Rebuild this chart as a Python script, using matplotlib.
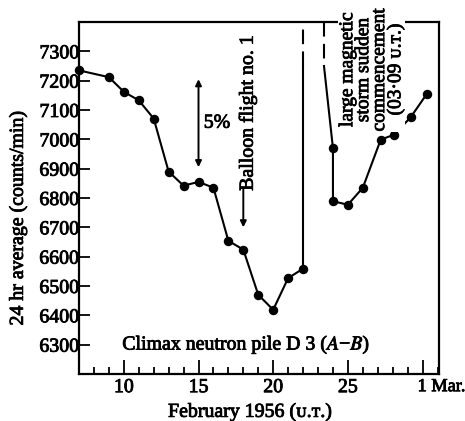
import matplotlib
matplotlib.use("Agg")
import matplotlib.pyplot as plt
import matplotlib.transforms as mtransforms
import matplotlib.patheffects as pe

plt.rcParams['font.family'] = ['Liberation Serif', 'DejaVu Serif']
plt.rcParams['mathtext.fontset'] = 'stix'

# --- data (February 1956, day of month; 30 = 1 Mar.) ---
days_before = [7, 9, 10, 11, 12, 13, 14, 15, 16, 17, 18, 19, 20, 21, 22]
counts_before = [7235, 7212, 7162, 7133, 7071, 6890, 6842, 6855, 6835,
                 6654, 6624, 6470, 6419, 6527, 6559]
days_after = [24, 24, 25, 26, 27.2, 28.1, 29.2, 30.3]
counts_after = [6970, 6789, 6777, 6835, 6999, 7016, 7075, 7156]
offscale_days = [22, 23.4]      # lines going off scale (flare of 23 Feb)
offscale_break = 7250           # where the off-scale lines turn dashed
xticks = [10, 15, 20, 25, 30]
xticklabels = ['10', '15', '20', '25', '1 Mar.']
yticks = [6300, 6400, 6500, 6600, 6700, 6800, 6900, 7000, 7100, 7200, 7300]
five_pct = [6905, 7205]

FS = 14.3
bold = [pe.withStroke(linewidth=0.6, foreground='black')]
fig = plt.figure(figsize=(4.65, 4.21), dpi=100)
ax = fig.add_axes([79/465, 1-374/421, 360/465, 352/421])
ax.set_xlim(7, 31.1)
ax.set_ylim(6200, 7400)

lw = 1.5
ax.plot(days_before, counts_before, '-o', color='black', lw=lw, ms=5.8, clip_on=False, zorder=4)
ax.plot(days_after, counts_after, '-o', color='black', lw=lw, ms=5.8, clip_on=False, zorder=4)

# off-scale excursions
top = ax.get_ylim()[1]
ax.plot([offscale_days[0], offscale_days[0]], [counts_before[-1], offscale_break], color='black', lw=lw)
ax.plot([offscale_days[0], offscale_days[0]], [offscale_break, top], color='black', lw=lw, dashes=(7, 3.5))
ax.plot([offscale_days[1], offscale_days[1]], [top, offscale_break], color='black', lw=lw, dashes=(7, 3.5))
ax.plot([offscale_days[1], days_after[0]], [offscale_break, counts_after[0]], color='black', lw=lw)

# ticks
ax.set_xticks(xticks)
ax.set_xticklabels(xticklabels)
ax.set_xticks(range(8, 32), minor=True)
ax.set_yticks(yticks)
ax.tick_params(axis='x', which='major', direction='in', length=10, width=1.3, labelsize=FS, pad=3, top=False)
ax.tick_params(axis='x', which='minor', direction='in', length=5, width=1.3, top=False)
ax.tick_params(axis='y', which='major', direction='in', length=8, width=1.3, labelsize=FS, pad=0, right=False)
for s in ax.spines.values():
    s.set_linewidth(1.6)
for t in ax.get_xticklabels() + ax.get_yticklabels():
    t.set_path_effects(bold)

last = ax.get_xticklabels()[-1]
last.set_horizontalalignment('left')
last.set_fontsize(13.2)
last.set_transform(last.get_transform() + mtransforms.ScaledTranslation(-5/100, 0, fig.dpi_scale_trans))

# 5% bar
ax.annotate('', xy=(15, five_pct[0]), xytext=(15, five_pct[1]),
            arrowprops=dict(arrowstyle='<|-|>', color='black', lw=1.4, mutation_scale=9, shrinkA=0, shrinkB=0))
ax.text(15.35, (five_pct[0] + five_pct[1]) / 2, '5%', fontsize=FS, ha='left', va='center', path_effects=bold)

# balloon flight
ax.text(18.3, 7090, 'Balloon flight no. 1', rotation=90, fontsize=FS, ha='center', va='center', path_effects=bold)
ax.annotate('', xy=(18, 6700), xytext=(18, 6830),
            arrowprops=dict(arrowstyle='-|>', color='black', lw=1.4, mutation_scale=9, shrinkA=0, shrinkB=0))

# storm text
ax.text(26.6, 7238, 'large magnetic\nstorm sudden\ncommencement\n(03·09 ᴜ.ᴛ.)', rotation=90,
        fontsize=14, ha='center', va='center', multialignment='center', linespacing=0.92,
        clip_on=False, zorder=5, path_effects=bold,
        bbox=dict(facecolor='white', edgecolor='none', pad=0.5))

ax.text(18.2, 6300, 'Climax neutron pile D 3 ($A$−$B$)', fontsize=FS, ha='center', va='center', path_effects=bold)

fig.text(18/465, 1-218/421, '24 hr average (counts/min)', rotation=90, fontsize=FS, ha='center', va='center', path_effects=bold)
fig.text(250/465, 1-412/421, 'February 1956 (ᴜ.ᴛ.)', fontsize=FS, ha='center', va='center', path_effects=bold)

fig.savefig('out.png', dpi=100)
